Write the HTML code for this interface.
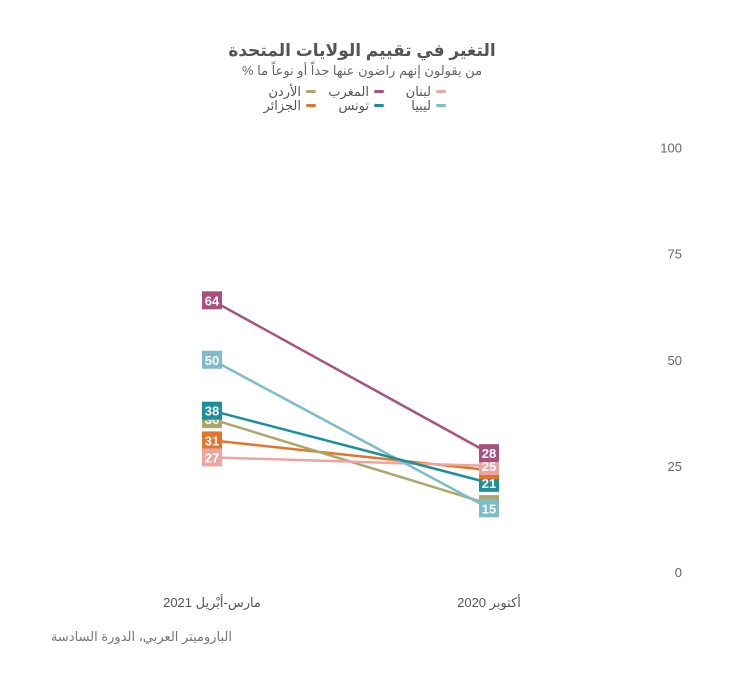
<!DOCTYPE html>
<html><head><meta charset="utf-8"><style>
body{margin:0;background:#fff;font-family:"Liberation Sans","Noto Sans CJK SC",sans-serif}
</style></head><body>
<svg width="740" height="683" xmlns="http://www.w3.org/2000/svg" font-family="Liberation Sans, DejaVu Sans, sans-serif">
<text x="362" y="56" text-anchor="middle" font-size="17" font-weight="bold" fill="#555">التغير في تقييم الولايات المتحدة</text>
<text x="362" y="75" text-anchor="middle" font-size="13" fill="#666">% من يقولون إنهم راضون عنها جداً أو نوعاً ما</text>
<g id="legend"></g>
<g id="axis"></g>
<g id="plot"></g>
<text x="232" y="641" text-anchor="end" font-size="13" fill="#777">الباروميتر العربي، الدورة السادسة</text>
</svg>
<script>
const categories=["مارس-أبْريل 2021","أكتوبر 2020"];
const seriesNames=["الجزائر","الأردن","لبنان","ليبيا","تونس","المغرب"];
const seriesColors=["#e5732a","#aaa86a","#eda5a0","#7ebcc9","#1b8f9a","#a9517f"];
const valuesLeft=[31,36,27,50,38,64];
const valuesRight=[24,16,25,15,21,28];
const yTicks=[0,25,50,75,100];
const ns="http://www.w3.org/2000/svg";
function y(v){return 572-v*4.245;}
function x(i){return [212,489][i];}
function mk(t,a,p){const e=document.createElementNS(ns,t);for(const k in a)e.setAttribute(k,a[k]);p.appendChild(e);return e;}
const axis=document.getElementById('axis'),plot=document.getElementById('plot'),leg=document.getElementById('legend');
yTicks.forEach(v=>{const t=mk('text',{x:682,y:y(v)+5,'text-anchor':'end','font-size':13,fill:'#666'},axis);t.textContent=v;

});
categories.forEach((c,i)=>{const t=mk('text',{x:x(i),y:607,'text-anchor':'middle','font-size':13,fill:'#555'},axis);t.textContent=c;

});
// legend (RTL order)
const legOrder=[[2,5,1],[3,4,0]];
const legX=[436,374,306];
legOrder.forEach((row,r)=>row.forEach((s,j)=>{
 const g=mk('g',{},leg);
 
 
 mk('rect',{x:legX[j],y:90+r*14,width:10,height:3,rx:1.5,fill:seriesColors[s]},g);
 const t=mk('text',{x:legX[j]-5,y:96+r*14,'text-anchor':'end','font-size':13,fill:'#555'},g);t.textContent=seriesNames[s];
}));
seriesNames.forEach((n,s)=>{
 const l=mk('line',{x1:x(0),y1:y(valuesLeft[s]),x2:x(1),y2:y(valuesRight[s]),stroke:seriesColors[s],'stroke-width':2.5},plot);
 
 
});
const drawOrder=[1,4,0,2,5,3];
drawOrder.forEach(s=>{
 [valuesLeft[s],valuesRight[s]].forEach((v,i)=>{
  const g=mk('g',{},plot);
  
  
  mk('rect',{x:x(i)-10,y:y(v)-9,width:20,height:18,fill:seriesColors[s]},g);
  const t=mk('text',{x:x(i),y:y(v)+5,'text-anchor':'middle','font-size':13,'font-weight':'bold',fill:'#fff'},g);t.textContent=v;
 });
});
</script>
</body></html>
